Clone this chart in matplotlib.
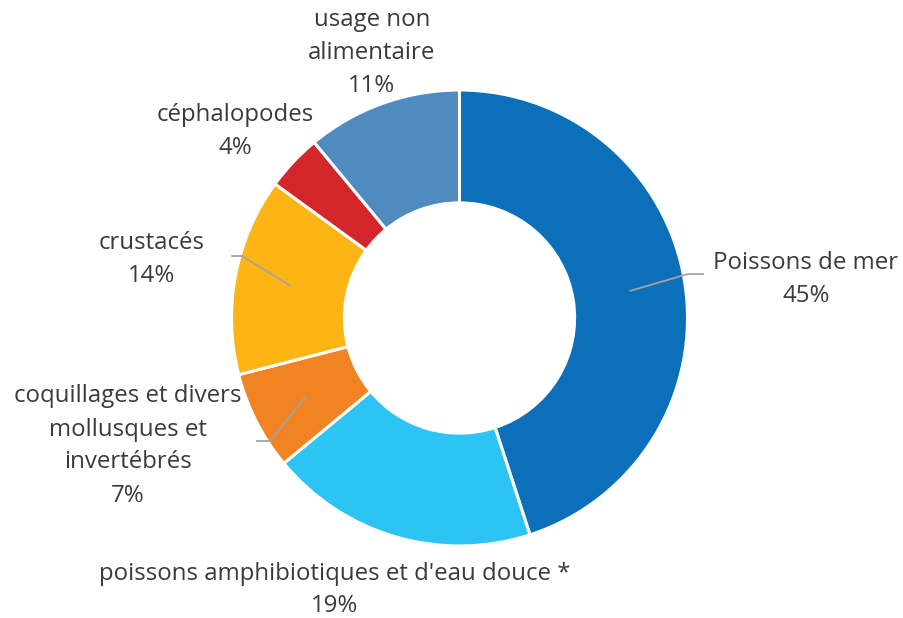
import numpy as np
import matplotlib
matplotlib.use("Agg")
import matplotlib.pyplot as plt

# share of each category, clockwise from the top
labels = ["Poissons de mer", "poissons amphibiotiques et d'eau douce *",
          "coquillages et divers\nmollusques et\ninvertébrés", "crustacés",
          "céphalopodes", "usage non\nalimentaire"]
values = [45, 19, 7, 14, 4, 11]
colors = ["#0b6fba", "#2dc4f4", "#f28322", "#fdb515", "#d3262b", "#4f8bbf"]

plt.rcParams['font.family'] = ['Open Sans', 'DejaVu Sans']
txt_color = "#3a3a3a"
line_color = "#a3a3a3"

W, H = 904, 618
fig = plt.figure(figsize=(W / 100, H / 100), dpi=100)
ax = fig.add_axes([0, 0, 1, 1])

cx, cy, R = 459.5, H - 318, 228
wedges, _ = ax.pie(values, colors=colors, startangle=90, counterclock=False,
                   center=(cx, cy), radius=R, frame=True,
                   wedgeprops=dict(width=R * 0.495, edgecolor='white', linewidth=2.2))
ax.set_xlim(0, W)
ax.set_ylim(0, H)
ax.set_aspect('equal')
ax.axis('off')

# label placement (pixel coords from top-left), and leader elbows where used
text_pos = [(806, 280), (335, 590), (128, 446), (152, 260), (235, 132), (372, 53)]
elbows = {0: [(688, 274), (704, 274)],
          2: [(270, 441), (256, 441)],
          3: [(242, 256), (231, 256)]}

for i, (lab, v) in enumerate(zip(labels, values)):
    x, y = text_pos[i]
    ax.text(x, H - y, f"{lab}\n{v}%", ha='center', va='center', fontsize=17.3,
            color=txt_color, linespacing=1.5)
    if i in elbows:
        w = wedges[i]
        mid = np.deg2rad((w.theta1 + w.theta2) / 2)
        r0 = R * 0.755
        xs = [cx + r0 * np.cos(mid)] + [p[0] for p in elbows[i]]
        ys = [cy + r0 * np.sin(mid)] + [H - p[1] for p in elbows[i]]
        ax.plot(xs, ys, color=line_color, lw=1.3, solid_capstyle='butt')

fig.savefig("out.png", dpi=100, facecolor='white')
